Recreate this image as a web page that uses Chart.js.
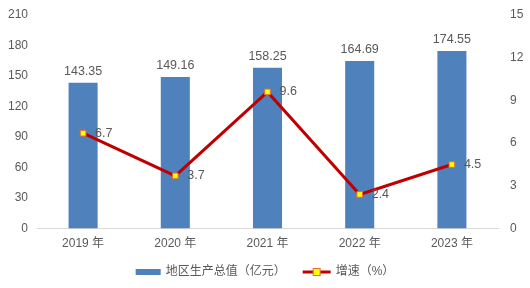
<!DOCTYPE html>
<html>
<head>
<meta charset="utf-8">
<script src="https://cdn.jsdelivr.net/npm/chart.js@4/dist/chart.umd.min.js"></script>
<style>
  html, body { margin: 0; padding: 0; background: #fff; }
  #wrap { width: 530px; height: 288px; position: relative; }
</style>
</head>
<body>
<div id="wrap"><canvas id="c"></canvas></div>
<script>
/* data */
const years = ['2019 年', '2020 年', '2021 年', '2022 年', '2023 年'];
const gdp = [143.35, 149.16, 158.25, 164.69, 174.55];
const growth = [6.7, 3.7, 9.6, 2.4, 4.5];
const gdpLabel = '地区生产总值（亿元）';
const growthLabel = '增速（%）';

const FONT = "'Liberation Sans', 'Noto Sans CJK SC', sans-serif";
const TXT = '#595959';
const BLUE = '#4F81BD';
const RED = '#C00000';

/* ── value labels ── */
const valueLabels = {
  id: 'valueLabels',
  afterDatasetsDraw(chart) {
    const ctx = chart.ctx;
    ctx.save();
    ctx.fillStyle = TXT;
    ctx.font = '12.5px ' + FONT;
    // dataset 1 = bars, dataset 0 = line
    chart.getDatasetMeta(1).data.forEach((bar, i) => {
      ctx.textAlign = 'center';
      ctx.textBaseline = 'bottom';
      ctx.fillText(gdp[i].toFixed(2), bar.x, bar.y - 5);
    });
    chart.getDatasetMeta(0).data.forEach((pt, i) => {
      ctx.textAlign = 'left';
      ctx.textBaseline = 'middle';
      ctx.fillText(growth[i].toFixed(1), pt.x + 12, pt.y);
    });
    ctx.restore();
  },
};

/* ── legend drawn on canvas ── */
const legendPlugin = {
  id: 'customLegend',
  afterDraw(chart) {
    const ctx = chart.ctx;
    ctx.save();
    ctx.font = '12px ' + FONT;
    ctx.textBaseline = 'middle';
    const y = 272;
    const w1 = ctx.measureText(gdpLabel).width;
    const w2 = ctx.measureText(growthLabel).width;
    const total = 25 + 5 + w1 + 17 + 28 + 5 + w2;
    let x = (chart.width - total) / 2;

    ctx.fillStyle = BLUE;
    ctx.fillRect(x, y - 3, 25, 6);
    x += 30;
    ctx.fillStyle = TXT;
    ctx.textAlign = 'left';
    ctx.fillText(gdpLabel, x, y);
    x += w1 + 17;

    ctx.strokeStyle = RED;
    ctx.lineWidth = 3;
    ctx.beginPath();
    ctx.moveTo(x, y);
    ctx.lineTo(x + 28, y);
    ctx.stroke();
    ctx.fillStyle = '#FFFF00';
    ctx.strokeStyle = '#E46C3A';
    ctx.lineWidth = 1;
    ctx.fillRect(x + 10.5, y - 3.5, 7, 7);
    ctx.strokeRect(x + 10.5, y - 3.5, 7, 7);
    x += 33;
    ctx.fillStyle = TXT;
    ctx.fillText(growthLabel, x, y);
    ctx.restore();
  },
};

new Chart(document.getElementById('c'), {
  data: {
    labels: years,
    datasets: [
      {
        type: 'line',
        label: growthLabel,
        data: growth,
        yAxisID: 'y2',
        borderColor: RED,
        borderWidth: 3,
        pointStyle: 'rect',
        pointRadius: 4,
        pointBackgroundColor: '#FFFF00',
        pointBorderColor: '#E46C3A',
        pointBorderWidth: 1,
        tension: 0,
        order: 0,
      },
      {
        type: 'bar',
        label: gdpLabel,
        data: gdp,
        yAxisID: 'y',
        backgroundColor: BLUE,
        categoryPercentage: 1,
        barPercentage: 0.315,
        order: 1,
      },
    ],
  },
  options: {
    responsive: true,
    maintainAspectRatio: false,
    animation: false,
    layout: { padding: { top: 15, bottom: 37, left: 4, right: 0 } },
    plugins: { legend: { display: false }, tooltip: { enabled: false } },
    scales: {
      x: {
        grid: { display: false },
        border: { color: '#D9D9D9', width: 1 },
        ticks: { color: TXT, font: { size: 12, family: FONT }, padding: 0 },
      },
      y: {
        position: 'left',
        min: 0, max: 210,
        grid: { display: false },
        border: { display: false },
        ticks: { stepSize: 30, color: TXT, font: { size: 12, family: FONT }, padding: 1 },
        afterFit: s => { s.width = 33; },
      },
      y2: {
        position: 'right',
        min: 0, max: 15,
        grid: { display: false },
        border: { display: false },
        ticks: { stepSize: 3, color: TXT, font: { size: 12, family: FONT }, padding: 4 },
        afterFit: s => { s.width = 32; },
      },
    },
  },
  plugins: [valueLabels, legendPlugin],
});
</script>
</body>
</html>
